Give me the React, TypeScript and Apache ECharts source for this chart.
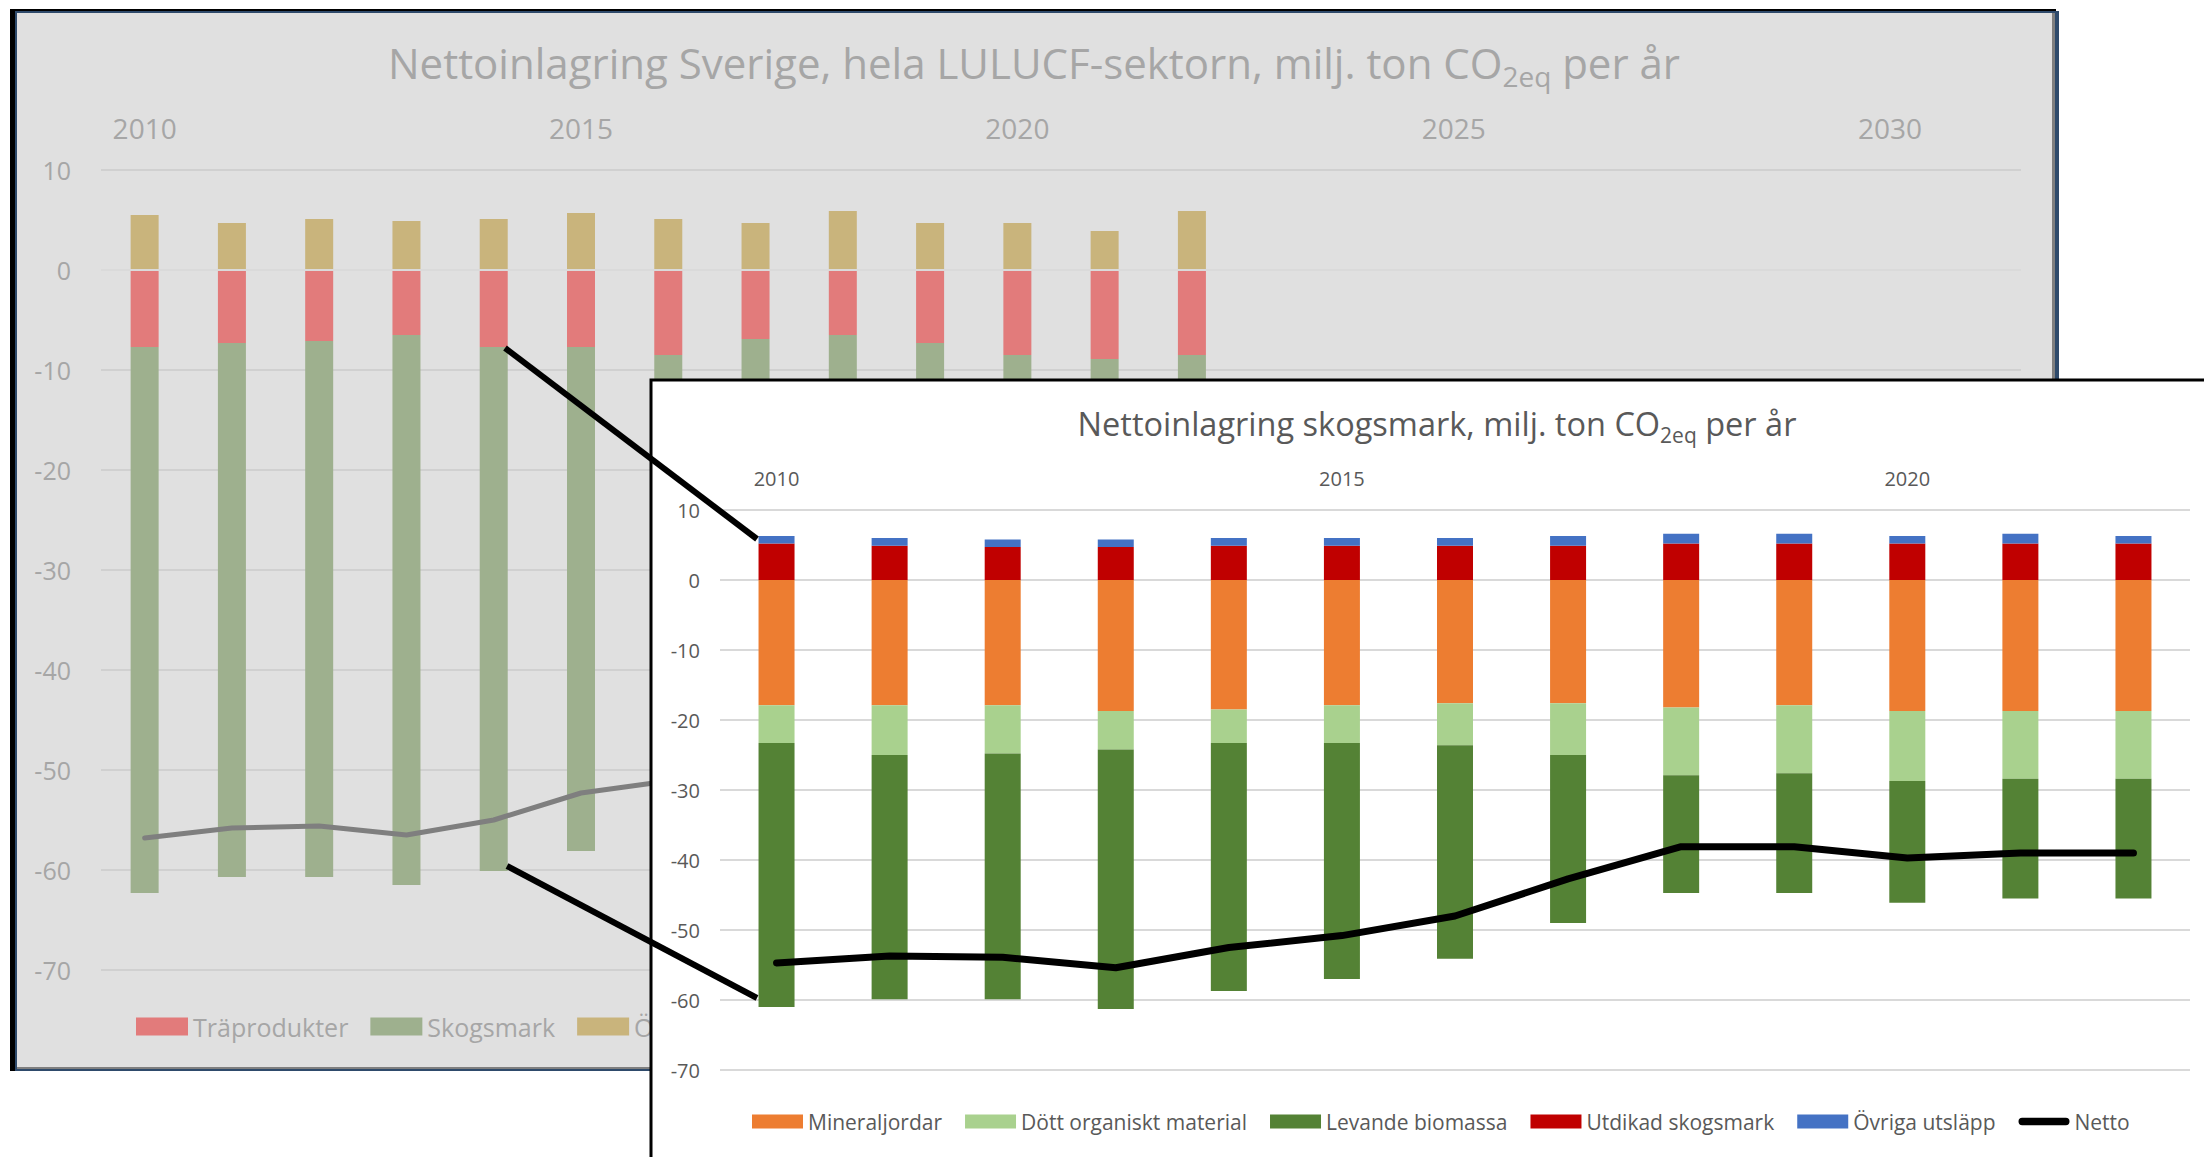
import React, { useEffect, useRef } from "react";
import * as echarts from "echarts";

const FONT = "'Open Sans', 'Noto Sans', sans-serif";

// Back chart (hela LULUCF-sektorn)
const backYears = [
  "2010", "2011", "2012", "2013", "2014", "2015", "2016", "2017", "2018", "2019", "2020",
  "2021", "2022", "2023", "2024", "2025", "2026", "2027", "2028", "2029", "2030", "2031",
];
const traprodukter = [-7.7, -7.3, -7.1, -6.5, -7.7, -7.7, -8.5, -6.9, -6.5, -7.3, -8.5, -8.9, -8.5];
const skogsmarkBack = [-54.6, -53.4, -53.6, -55.0, -52.4, -50.4, -48.0, -42.7, -38.1, -38.1, -39.7, -39.0, -39.0];
const ovrigt = [5.5, 4.7, 5.1, 4.9, 5.1, 5.7, 5.1, 4.7, 5.9, 4.7, 4.7, 3.9, 5.9];
const totaltBack = [-56.8, -55.8, -55.6, -56.5, -55.0, -52.3, -51.1, -44.9, -38.7, -40.7, -43.5, -44.0, -41.6];

// Front chart (skogsmark)
const frontYears = ["2010", "2011", "2012", "2013", "2014", "2015", "2016", "2017", "2018", "2019", "2020", "2021", "2022"];
const mineraljordar = [-17.9, -17.9, -17.9, -18.7, -18.5, -17.9, -17.6, -17.6, -18.2, -17.9, -18.7, -18.7, -18.7];
const dottOrganiskt = [-5.4, -7.1, -6.9, -5.5, -4.8, -5.4, -6.0, -7.4, -9.7, -9.7, -10.0, -9.7, -9.7];
const levandeBiomassa = [-37.7, -34.9, -35.1, -37.1, -35.4, -33.7, -30.5, -24.0, -16.8, -17.1, -17.4, -17.1, -17.1];
const utdikad = [5.2, 4.9, 4.7, 4.7, 4.9, 4.9, 4.9, 4.9, 5.2, 5.2, 5.2, 5.2, 5.2];
const ovrigaUtslapp = [1.1, 1.1, 1.1, 1.1, 1.1, 1.1, 1.1, 1.4, 1.4, 1.4, 1.1, 1.4, 1.1];
const netto = [-54.7, -53.7, -53.9, -55.4, -52.5, -50.8, -48.0, -42.7, -38.1, -38.1, -39.7, -39.0, -39.0];

const yMin = -70;
const yMax = 10;
const yStep = 10;

const BACK_TEXT = "#a6a6a6";
const FRONT_TEXT = "#595959";

export default function App() {
  const ref = useRef<HTMLDivElement>(null);

  useEffect(() => {
    if (!ref.current) return;
    const chart = echarts.init(ref.current, undefined, { renderer: "svg" });

    const option: any = {
      animation: false,
      graphic: [
        { type: "rect", z: -10, shape: { x: 10, y: 9, width: 2046, height: 1062 }, style: { fill: "#000000" } },
        { type: "rect", z: -9, shape: { x: 15, y: 11, width: 2044, height: 1060 }, style: { fill: "#2e4a6b" } },
        { type: "rect", z: -8, shape: { x: 17, y: 13, width: 2038, height: 1056 }, style: { fill: "#7f7f7f" } },
        { type: "rect", z: -7, shape: { x: 17, y: 13, width: 2035, height: 1054 }, style: { fill: "#e0e0e0" } },
        {
          type: "text",
          z: 5,
          x: 1034,
          y: 62,
          style: {
            text: "{a|Nettoinlagring Sverige, hela LULUCF-sektorn, milj. ton CO}{s|2eq}{a| per år}",
            align: "center",
            verticalAlign: "middle",
            rich: {
              a: { fontSize: 42, fontFamily: FONT, fill: BACK_TEXT, lineHeight: 56 },
              s: { fontSize: 28, fontFamily: FONT, fill: BACK_TEXT, lineHeight: 28, verticalAlign: "bottom" },
            },
          },
        },
        {
          type: "rect",
          z: 50,
          shape: { x: 651, y: 380, width: 1560, height: 800 },
          style: { fill: "#ffffff", stroke: "#000000", lineWidth: 3 },
        },
        {
          type: "text",
          z: 55,
          x: 1437,
          y: 423,
          style: {
            text: "{a|Nettoinlagring skogsmark, milj. ton CO}{s|2eq}{a| per år}",
            align: "center",
            verticalAlign: "middle",
            rich: {
              a: { fontSize: 32.5, fontFamily: FONT, fill: FRONT_TEXT, lineHeight: 44 },
              s: { fontSize: 21, fontFamily: FONT, fill: FRONT_TEXT, lineHeight: 21, verticalAlign: "bottom" },
            },
          },
        },
        {
          type: "line",
          z: 100,
          shape: { x1: 505, y1: 348, x2: 757, y2: 539 },
          style: { stroke: "#000000", lineWidth: 6 },
        },
        {
          type: "line",
          z: 100,
          shape: { x1: 507, y1: 866, x2: 757, y2: 998 },
          style: { stroke: "#000000", lineWidth: 6 },
        },
      ],
      legend: [
        {
          z: 4,
          left: 136,
          top: 1014,
          padding: 0,
          orient: "horizontal",
          itemWidth: 52,
          itemHeight: 18,
          itemGap: 22,
          icon: "rect",
          data: ["Träprodukter", "Skogsmark", "Övrigt"],
          textStyle: { color: BACK_TEXT, fontSize: 25, fontFamily: FONT },
        },
        {
          z: 56,
          left: 752,
          top: 1111,
          padding: 0,
          orient: "horizontal",
          itemWidth: 51,
          itemHeight: 14,
          itemGap: 23,
          data: [
            { name: "Mineraljordar", icon: "rect" },
            { name: "Dött organiskt material", icon: "rect" },
            { name: "Levande biomassa", icon: "rect" },
            { name: "Utdikad skogsmark", icon: "rect" },
            { name: "Övriga utsläpp", icon: "rect" },
            { name: "Netto", icon: "path://M4,0 L52,0 A4,4 0 0 1 52,8 L4,8 A4,4 0 0 1 4,0 Z" },
          ],
          textStyle: { color: FRONT_TEXT, fontSize: 21, fontFamily: FONT },
        },
      ],
      grid: [
        { left: 101, top: 170, width: 1920, height: 800 },
        { left: 720, top: 510, width: 1470, height: 560 },
      ],
      xAxis: [
        {
          type: "category",
          gridIndex: 0,
          data: backYears,
          position: "top",
          z: 1,
          axisLine: { show: false },
          axisTick: { show: false },
          axisLabel: {
            interval: (i: number) => i % 5 === 0,
            color: BACK_TEXT,
            fontSize: 28,
            fontFamily: FONT,
            margin: 28,
          },
        },
        {
          type: "category",
          gridIndex: 1,
          data: frontYears,
          position: "top",
          z: 51,
          axisLine: { show: false },
          axisTick: { show: false },
          axisLabel: {
            interval: (i: number) => i % 5 === 0,
            color: FRONT_TEXT,
            fontSize: 20,
            fontFamily: FONT,
            margin: 22,
          },
        },
      ],
      yAxis: [
        {
          type: "value",
          gridIndex: 0,
          min: yMin,
          max: yMax,
          interval: yStep,
          z: 1,
          axisLine: { show: false },
          axisTick: { show: false },
          axisLabel: { color: BACK_TEXT, fontSize: 25, fontFamily: FONT, margin: 30 },
          splitLine: { lineStyle: { color: "#d0d0d0", width: 2 } },
        },
        {
          type: "value",
          gridIndex: 1,
          min: yMin,
          max: yMax,
          interval: yStep,
          z: 51,
          axisLine: { show: false },
          axisTick: { show: false },
          axisLabel: { color: FRONT_TEXT, fontSize: 20, fontFamily: FONT, margin: 20 },
          splitLine: { lineStyle: { color: "#d9d9d9", width: 2 } },
        },
      ],
      series: [
        {
          name: "Träprodukter",
          type: "bar",
          stack: "back",
          xAxisIndex: 0,
          yAxisIndex: 0,
          barWidth: 28,
          z: 2,
          itemStyle: { color: "#e27b7b" },
          data: traprodukter,
        },
        {
          name: "Skogsmark",
          type: "bar",
          stack: "back",
          xAxisIndex: 0,
          yAxisIndex: 0,
          barWidth: 28,
          z: 2,
          itemStyle: { color: "#9eb08e" },
          data: skogsmarkBack,
        },
        {
          name: "Övrigt",
          type: "bar",
          stack: "back",
          xAxisIndex: 0,
          yAxisIndex: 0,
          barWidth: 28,
          z: 2,
          itemStyle: { color: "#c9b47c" },
          data: ovrigt,
          markLine: {
            silent: true,
            symbol: "none",
            label: { show: false },
            lineStyle: { color: "#dadada", width: 2, type: "solid" },
            data: [{ yAxis: 0 }],
          },
        },
        {
          name: "Totalt",
          type: "line",
          xAxisIndex: 0,
          yAxisIndex: 0,
          z: 3,
          symbol: "none",
          lineStyle: { color: "#7f7f7f", width: 5, cap: "round", join: "round" },
          itemStyle: { color: "#7f7f7f" },
          data: totaltBack,
        },
        {
          name: "Mineraljordar",
          type: "bar",
          stack: "front",
          xAxisIndex: 1,
          yAxisIndex: 1,
          barWidth: 36,
          z: 52,
          itemStyle: { color: "#ed7d31" },
          data: mineraljordar,
        },
        {
          name: "Dött organiskt material",
          type: "bar",
          stack: "front",
          xAxisIndex: 1,
          yAxisIndex: 1,
          barWidth: 36,
          z: 52,
          itemStyle: { color: "#a9d18e" },
          data: dottOrganiskt,
        },
        {
          name: "Levande biomassa",
          type: "bar",
          stack: "front",
          xAxisIndex: 1,
          yAxisIndex: 1,
          barWidth: 36,
          z: 52,
          itemStyle: { color: "#548235" },
          data: levandeBiomassa,
        },
        {
          name: "Utdikad skogsmark",
          type: "bar",
          stack: "front",
          xAxisIndex: 1,
          yAxisIndex: 1,
          barWidth: 36,
          z: 52,
          itemStyle: { color: "#c00000" },
          data: utdikad,
        },
        {
          name: "Övriga utsläpp",
          type: "bar",
          stack: "front",
          xAxisIndex: 1,
          yAxisIndex: 1,
          barWidth: 36,
          z: 52,
          itemStyle: { color: "#4472c4" },
          data: ovrigaUtslapp,
          markLine: {
            silent: true,
            symbol: "none",
            label: { show: false },
            lineStyle: { color: "#e3e3e3", width: 2, type: "solid" },
            data: [{ yAxis: 0 }],
          },
        },
        {
          name: "Netto",
          type: "line",
          xAxisIndex: 1,
          yAxisIndex: 1,
          z: 53,
          symbol: "none",
          lineStyle: { color: "#000000", width: 7, cap: "round", join: "round" },
          itemStyle: { color: "#000000" },
          data: netto,
        },
      ],
    };

    chart.setOption(option);
    return () => chart.dispose();
  }, []);

  return (
    <div
      ref={ref}
      style={{ position: "fixed", left: 0, top: 0, width: 2204, height: 1157, background: "#ffffff" }}
    />
  );
}
